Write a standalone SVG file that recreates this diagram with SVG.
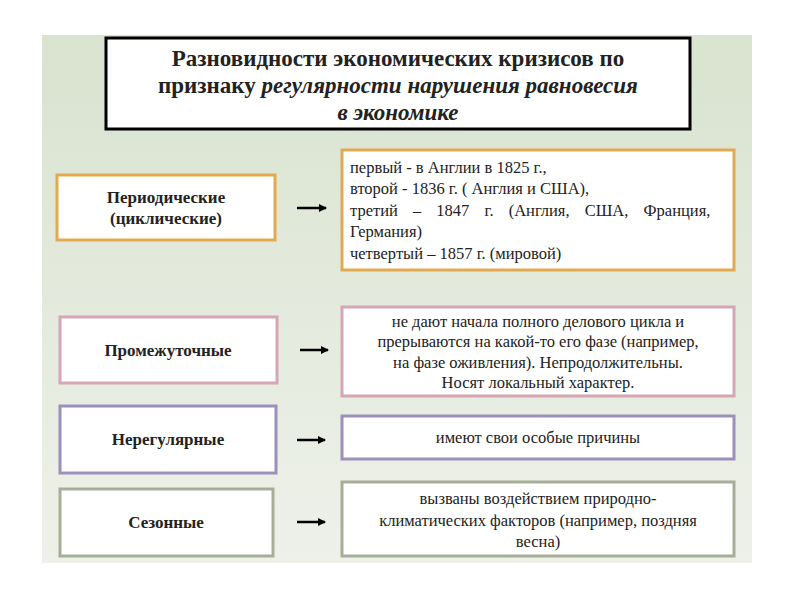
<svg xmlns="http://www.w3.org/2000/svg" width="800" height="600" viewBox="0 0 800 600">
<defs>
<linearGradient id="bg" x1="0" y1="0" x2="0" y2="1"><stop offset="0" stop-color="#d9e3cf"/><stop offset="1" stop-color="#eef1ea"/></linearGradient>
<marker id="ar" markerWidth="8" markerHeight="8" refX="7" refY="4" orient="auto" markerUnits="userSpaceOnUse"><path d="M0,0 L8,4 L0,8 Z" fill="#000"/></marker>
</defs>
<style>
text{font-family:"Liberation Serif","DejaVu Serif",serif;fill:#222;}
.t{font-size:23px;font-weight:bold;text-anchor:middle;}
.l{font-size:17px;font-weight:bold;text-anchor:middle;}
.r{font-size:16.5px;}
.c{text-anchor:middle;}
rect{fill:#fff;stroke-width:3;}
.o{stroke:#e3a950;}.p{stroke:#d6a6b4;}.u{stroke:#9c8fbc;}.g{stroke:#a7ae98;}
.cn line{stroke:#000;stroke-width:2.5;}
</style>
<rect x="0" y="0" width="800" height="600" style="fill:#fff;stroke:none"/>
<rect x="42" y="35" width="710" height="528" style="fill:url(#bg);stroke:none"/>
<g id="title"><rect x="106" y="38" width="584" height="91" style="stroke:#000"/>
<text class="t" x="398" y="66">Разновидности экономических кризисов по</text>
<text class="t" x="398" y="93">признаку <tspan font-style="italic">регулярности нарушения равновесия</tspan></text>
<text class="t" x="398" y="120" font-style="italic">в экономике</text></g>
<g id="n1"><rect class="o" x="57" y="175" width="218" height="65"/><text class="l" x="166" y="203">Периодические</text><text class="l" x="166" y="224">(циклические)</text></g>
<g id="n2"><rect class="p" x="60" y="317" width="217" height="66"/><text class="l" x="168" y="356">Промежуточные</text></g>
<g id="n3"><rect class="u" x="60" y="406" width="216" height="67"/><text class="l" x="168" y="445">Нерегулярные</text></g>
<g id="n4"><rect class="g" x="60" y="489" width="213" height="67"/><text class="l" x="166" y="528">Сезонные</text></g>
<g id="d1"><rect class="o" x="342" y="150" width="392" height="120"/>
<text class="r" x="350" y="173">первый - в Англии в 1825 г.,</text>
<text class="r" x="350" y="194">второй  - 1836 г. ( Англия и США),</text>
<text class="r" x="350" y="216" word-spacing="11">третий – 1847 г. (Англия, США, Франция,</text>
<text class="r" x="350" y="237">Германия)</text>
<text class="r" x="350" y="259">четвертый – 1857 г. (мировой)</text></g>
<g id="d2"><rect class="p" x="342" y="307" width="392" height="89"/>
<text class="r c" x="538" y="327">не дают начала полного делового цикла и</text>
<text class="r c" x="538" y="347">прерываются на какой-то его фазе (например,</text>
<text class="r c" x="538" y="368">на фазе оживления). Непродолжительны.</text>
<text class="r c" x="538" y="388">Носят локальный характер.</text></g>
<g id="d3"><rect class="u" x="342" y="416" width="392" height="43"/><text class="r c" x="538" y="443">имеют свои особые причины</text></g>
<g id="d4"><rect class="g" x="342" y="482" width="392" height="74"/>
<text class="r c" x="538" y="504">вызваны  воздействием природно-</text>
<text class="r c" x="538" y="526">климатических факторов (например, поздняя</text>
<text class="r c" x="538" y="547">весна)</text></g>
<g class="cn" id="connectors">
<line x1="297" y1="208" x2="326" y2="208" marker-end="url(#ar)"/>
<line x1="300" y1="350" x2="328" y2="350" marker-end="url(#ar)"/>
<line x1="297" y1="440" x2="325" y2="440" marker-end="url(#ar)"/>
<line x1="297" y1="522" x2="325" y2="522" marker-end="url(#ar)"/>
</g>
</svg>
